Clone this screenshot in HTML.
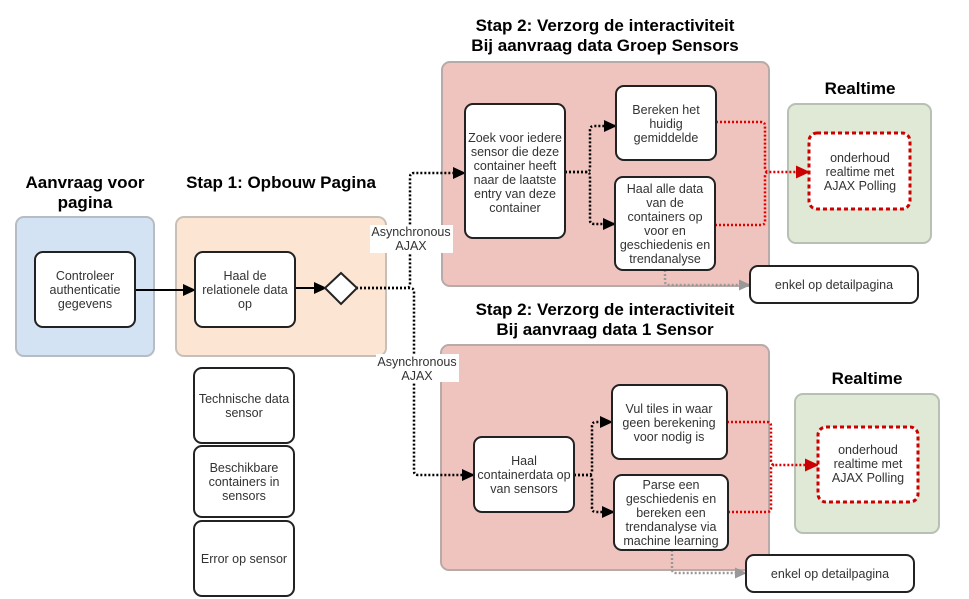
<!DOCTYPE html>
<html><head><meta charset="utf-8"><style>
body{margin:0;background:#fff}
svg{display:block}
text{font-family:"Liberation Sans",Arial,sans-serif;fill:#333}
.t{font-size:12.5px;text-anchor:middle}
.h{font-size:17px;font-weight:bold;text-anchor:middle;fill:#000}
.box{fill:#fff;stroke:#222;stroke-width:2}
</style></head><body>
<svg width="969" height="599" viewBox="0 0 969 599" xmlns="http://www.w3.org/2000/svg">
<defs>
<marker id="ab" markerWidth="13" markerHeight="12" refX="12" refY="6" orient="auto" markerUnits="userSpaceOnUse"><path d="M0,0 L13,6 L0,12z" fill="#000"/></marker>
<marker id="ar" markerWidth="14" markerHeight="13" refX="13" refY="6.5" orient="auto" markerUnits="userSpaceOnUse"><path d="M0,0 L14,6.5 L0,13z" fill="#c00"/></marker>
<marker id="ag" markerWidth="12" markerHeight="11" refX="11" refY="5.5" orient="auto" markerUnits="userSpaceOnUse"><path d="M0,0 L12,5.5 L0,11z" fill="#999"/></marker>
</defs>
<text class="h" x="85" y="188">Aanvraag voor</text>
<text class="h" x="85" y="208">pagina</text>
<text class="h" x="281" y="188">Stap 1: Opbouw Pagina</text>
<text class="h" x="605" y="31">Stap 2: Verzorg de interactiviteit</text>
<text class="h" x="605" y="51">Bij aanvraag data Groep Sensors</text>
<text class="h" x="605" y="315">Stap 2: Verzorg de interactiviteit</text>
<text class="h" x="605" y="335">Bij aanvraag data 1 Sensor</text>
<text class="h" x="860" y="94">Realtime</text>
<text class="h" x="867" y="384">Realtime</text>
<rect x="16" y="217" width="138" height="139" rx="8" fill="#d4e3f3" stroke="#b5bcc4" stroke-width="2"/>
<rect x="176" y="217" width="210" height="139" rx="8" fill="#fce6d3" stroke="#c8c0b8" stroke-width="2"/>
<rect x="442" y="62" width="327" height="224" rx="8" fill="#f0c4be" stroke="#b8aaa8" stroke-width="2"/>
<rect x="441" y="345" width="328" height="225" rx="8" fill="#f0c4be" stroke="#b8aaa8" stroke-width="2"/>
<rect x="788" y="104" width="143" height="139" rx="8" fill="#dfe9d5" stroke="#b8c0b4" stroke-width="2"/>
<rect x="795" y="394" width="144" height="139" rx="8" fill="#dfe9d5" stroke="#b8c0b4" stroke-width="2"/>
<g fill="none">
<path d="M135,290 H195" stroke="#000" stroke-width="2" marker-end="url(#ab)"/>
<path d="M295,288 H326" stroke="#000" stroke-width="2" marker-end="url(#ab)"/>
<path d="M356,288 H406 Q410,288 410,284 V177 Q410,173 414,173 H465" stroke="#000" stroke-width="2.5" stroke-dasharray="2,2" marker-end="url(#ab)"/>
<path d="M356,288 H410 Q414,288 414,292 V471 Q414,475 418,475 H474" stroke="#000" stroke-width="2.5" stroke-dasharray="2,2" marker-end="url(#ab)"/>
<path d="M565,172 H586 Q590,172 590,168 V130 Q590,126 594,126 H616" stroke="#000" stroke-width="2.5" stroke-dasharray="2,2" marker-end="url(#ab)"/>
<path d="M565,172 H586 Q590,172 590,176 V220 Q590,224 594,224 H615" stroke="#000" stroke-width="2.5" stroke-dasharray="2,2" marker-end="url(#ab)"/>
<path d="M574,475 H588 Q592,475 592,471 V426 Q592,422 596,422 H612" stroke="#000" stroke-width="2.5" stroke-dasharray="2,2" marker-end="url(#ab)"/>
<path d="M574,475 H588 Q592,475 592,479 V508 Q592,512 596,512 H614" stroke="#000" stroke-width="2.5" stroke-dasharray="2,2" marker-end="url(#ab)"/>
<path d="M716,122 H761 Q765,122 765,126 V168 Q765,172 769,172 H809" stroke="#d00" stroke-width="2.5" stroke-dasharray="2,2" marker-end="url(#ar)"/>
<path d="M715,225 H761 Q765,225 765,221 V176 Q765,172 769,172" stroke="#d00" stroke-width="2.5" stroke-dasharray="2,2"/>
<path d="M727,422 H767 Q771,422 771,426 V461 Q771,465 775,465 H818" stroke="#d00" stroke-width="2.5" stroke-dasharray="2,2" marker-end="url(#ar)"/>
<path d="M728,512 H767 Q771,512 771,508 V469 Q771,465 775,465" stroke="#d00" stroke-width="2.5" stroke-dasharray="2,2"/>
<path d="M665,270 V281 Q665,285 669,285 H750" stroke="#999" stroke-width="2.5" stroke-dasharray="2,2" marker-end="url(#ag)"/>
<path d="M672,550 V569 Q672,573 676,573 H746" stroke="#999" stroke-width="2.5" stroke-dasharray="2,2" marker-end="url(#ag)"/>
</g>
<rect x="370" y="225" width="83" height="28" fill="#fff"/>
<text class="t" x="411" y="236">Asynchronous</text><text class="t" x="411" y="250">AJAX</text>
<rect x="376" y="354" width="83" height="28" fill="#fff"/>
<text class="t" x="417" y="366">Asynchronous</text><text class="t" x="417" y="380">AJAX</text>
<path d="M341,273 L357,288 L341,304 L325,288z" fill="#fff" stroke="#222" stroke-width="2"/>
<rect class="box" x="35" y="252" width="100" height="75" rx="8"/>
<text class="t" x="85" y="280">Controleer</text><text class="t" x="85" y="294">authenticatie</text><text class="t" x="85" y="308">gegevens</text>
<rect class="box" x="195" y="252" width="100" height="75" rx="8"/>
<text class="t" x="245" y="280">Haal de</text><text class="t" x="245" y="294">relationele data</text><text class="t" x="245" y="308">op</text>
<rect class="box" x="194" y="368" width="100" height="75" rx="8"/>
<text class="t" x="244" y="403">Technische data</text><text class="t" x="244" y="417">sensor</text>
<rect class="box" x="194" y="446" width="100" height="71" rx="8"/>
<text class="t" x="244" y="472">Beschikbare</text><text class="t" x="244" y="486">containers in</text><text class="t" x="244" y="500">sensors</text>
<rect class="box" x="194" y="521" width="100" height="75" rx="8"/>
<text class="t" x="244" y="563">Error op sensor</text>
<rect class="box" x="465" y="104" width="100" height="134" rx="8"/>
<text class="t" x="515" y="142">Zoek voor iedere</text><text class="t" x="515" y="156">sensor die deze</text><text class="t" x="515" y="170">container heeft</text><text class="t" x="515" y="184">naar de laatste</text><text class="t" x="515" y="198">entry van deze</text><text class="t" x="515" y="212">container</text>
<rect class="box" x="616" y="86" width="100" height="74" rx="8"/>
<text class="t" x="666" y="114">Bereken het</text><text class="t" x="666" y="128">huidig</text><text class="t" x="666" y="142">gemiddelde</text>
<rect class="box" x="615" y="177" width="100" height="93" rx="8"/>
<text class="t" x="665" y="193">Haal alle data</text><text class="t" x="665" y="207">van de</text><text class="t" x="665" y="221">containers op</text><text class="t" x="665" y="235">voor en</text><text class="t" x="665" y="249">geschiedenis en</text><text class="t" x="665" y="263">trendanalyse</text>
<rect x="809" y="133" width="101" height="76" rx="8" fill="#fff" stroke="#c00" stroke-width="3" stroke-dasharray="4,3"/>
<text class="t" x="860" y="162">onderhoud</text><text class="t" x="860" y="176">realtime met</text><text class="t" x="860" y="190">AJAX Polling</text>
<rect class="box" x="750" y="266" width="168" height="37" rx="8"/>
<text class="t" x="834" y="289">enkel op detailpagina</text>
<rect class="box" x="474" y="437" width="100" height="75" rx="8"/>
<text class="t" x="524" y="465">Haal</text><text class="t" x="524" y="479">containerdata op</text><text class="t" x="524" y="493">van sensors</text>
<rect class="box" x="612" y="385" width="115" height="74" rx="8"/>
<text class="t" x="669" y="413">Vul tiles in waar</text><text class="t" x="669" y="427">geen berekening</text><text class="t" x="669" y="441">voor nodig is</text>
<rect class="box" x="614" y="475" width="114" height="75" rx="8"/>
<text class="t" x="671" y="489">Parse een</text><text class="t" x="671" y="503">geschiedenis en</text><text class="t" x="671" y="517">bereken een</text><text class="t" x="671" y="531">trendanalyse via</text><text class="t" x="671" y="545">machine learning</text>
<rect x="818" y="427" width="100" height="75" rx="8" fill="#fff" stroke="#c00" stroke-width="3" stroke-dasharray="4,3"/>
<text class="t" x="868" y="454">onderhoud</text><text class="t" x="868" y="468">realtime met</text><text class="t" x="868" y="482">AJAX Polling</text>
<rect class="box" x="746" y="555" width="168" height="37" rx="8"/>
<text class="t" x="830" y="578">enkel op detailpagina</text>
</svg>
</body></html>
